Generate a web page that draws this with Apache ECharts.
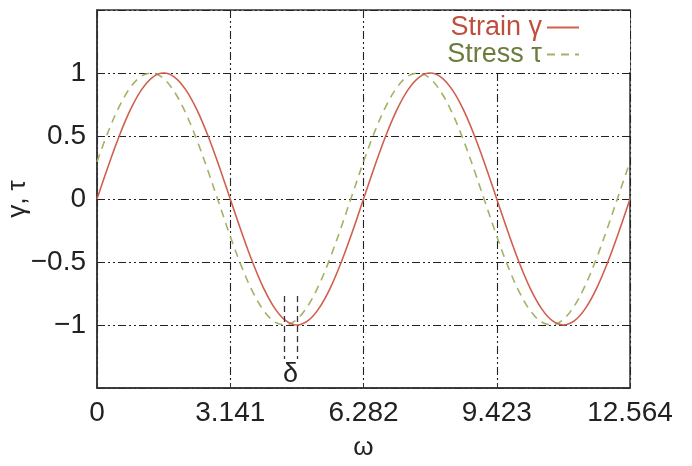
<!DOCTYPE html>
<html>
<head>
<meta charset="utf-8">
<script src="https://cdn.jsdelivr.net/npm/echarts@6/dist/echarts.min.js"></script>
<style>
  html, body { margin: 0; padding: 0; background: #ffffff; }
  #chart { width: 692px; height: 466px; }
</style>
</head>
<body>
<div id="chart"></div>
<script>
// Angular position (rad)
const omega = [
  0, 0.262, 0.524, 0.785, 1.047, 1.309, 1.571, 1.833, 2.094, 2.356, 2.618, 2.880,
  3.141, 3.403, 3.665, 3.927, 4.188, 4.450, 4.712, 4.974, 5.236, 5.498, 5.759, 6.021,
  6.282, 6.544, 6.806, 7.068, 7.329, 7.591, 7.853, 8.115, 8.377, 8.639, 8.900, 9.162,
  9.423, 9.685, 9.947, 10.209, 10.471, 10.732, 10.994, 11.256, 11.518, 11.779, 12.041, 12.303,
  12.564
];

// Strain γ
const strain = [
  0, 0.2588, 0.5, 0.7071, 0.866, 0.9659, 1, 0.9659, 0.866, 0.7071, 0.5, 0.2588,
  0, -0.2588, -0.5, -0.7071, -0.866, -0.9659, -1, -0.9659, -0.866, -0.7071, -0.5, -0.2588,
  0, 0.2588, 0.5, 0.7071, 0.866, 0.9659, 1, 0.9659, 0.866, 0.7071, 0.5, 0.2588,
  0, -0.2588, -0.5, -0.7071, -0.866, -0.9659, -1, -0.9659, -0.866, -0.7071, -0.5, -0.2588,
  0
];

// Stress τ (leads the strain by the phase angle δ)
const stress = [
  0.2955, 0.5327, 0.7335, 0.8845, 0.9751, 0.9993, 0.9553, 0.8463, 0.6797, 0.4666, 0.2217, -0.0382,
  -0.2955, -0.5327, -0.7335, -0.8845, -0.9751, -0.9993, -0.9553, -0.8463, -0.6797, -0.4666, -0.2217, 0.0382,
  0.2955, 0.5327, 0.7335, 0.8845, 0.9751, 0.9993, 0.9553, 0.8463, 0.6797, 0.4666, 0.2217, -0.0382,
  -0.2955, -0.5327, -0.7335, -0.8845, -0.9751, -0.9993, -0.9553, -0.8463, -0.6797, -0.4666, -0.2217, 0.0382,
  0.2955
];

// Axis ticks
const xTicks = [0, 3.141, 6.282, 9.423, 12.564];
const xTickLabels = ['0', '3.141', '6.282', '9.423', '12.564'];
const yTicks = [-1, -0.5, 0, 0.5, 1];
const yTickLabels = ['\u22121', '\u22120.5', '0', '0.5', '1'];

// Phase-lag marker: minima of stress and strain
const deltaMarks = [4.412, 4.712];
const deltaSpan = [-0.77, -1.27];
const deltaLabelAt = [4.562, -1.39];

const names = ['Strain \u03b3', 'Stress \u03c4'];
const red = '#d0604e';
const green = '#a3b266';
const font = '"Liberation Sans", Arial, sans-serif';
const gridDash = [8, 3, 2, 3, 2, 3];

const pair = (xs, ys) => xs.map((x, i) => [x, ys[i]]);

const chart = echarts.init(document.getElementById('chart'), null, { renderer: 'canvas' });

chart.setOption({
  animation: false,
  backgroundColor: '#ffffff',
  grid: {
    left: 97, right: 62, top: 10, bottom: 78,
    containLabel: false,
    outerBoundsMode: 'none',
    show: true, borderColor: '#333333', borderWidth: 1.5, backgroundColor: 'transparent'
  },
  legend: {
    right: 62, top: 11,
    orient: 'vertical',
    align: 'right',
    backgroundColor: '#ffffff',
    padding: [3, 50, 4, 10],
    itemGap: 0,
    itemWidth: 32,
    itemHeight: 10,
    itemStyle: { opacity: 0 },
    textStyle: { fontFamily: font, fontSize: 27, lineHeight: 23 },
    data: [
      { name: names[0], textStyle: { color: '#bf4f3d' } },
      { name: names[1], textStyle: { color: '#6b7c3c' } }
    ]
  },
  xAxis: {
    type: 'value',
    min: 0, max: 12.564, interval: 3.141,
    name: '\u03c9', nameLocation: 'middle', nameGap: 47,
    nameMoveOverlap: false,
    nameTextStyle: { fontFamily: font, fontSize: 26, color: '#222' },
    axisLine: { show: true, onZero: false, lineStyle: { color: '#333', width: 1.5 } },
    axisTick: { show: true, inside: true, length: 5, lineStyle: { color: '#333' } },
    axisLabel: {
      fontFamily: font, fontSize: 28, color: '#222', margin: 11,
      formatter: v => {
        const i = xTicks.findIndex(t => Math.abs(t - v) < 1e-6);
        return i >= 0 ? xTickLabels[i] : '';
      }
    },
    splitLine: { show: true, lineStyle: { color: '#222', width: 1.1, type: gridDash } }
  },
  yAxis: {
    type: 'value',
    min: -1.5, max: 1.5, interval: 0.5,
    name: '\u03b3, \u03c4', nameLocation: 'middle', nameGap: 66, nameRotate: 90,
    nameMoveOverlap: false,
    nameTextStyle: { fontFamily: font, fontSize: 26, color: '#222' },
    axisLine: { show: true, onZero: false, lineStyle: { color: '#333', width: 1.5 } },
    axisTick: { show: false },
    axisLabel: {
      fontFamily: font, fontSize: 28, color: '#222', margin: 11,
      formatter: v => {
        const i = yTicks.findIndex(t => Math.abs(t - v) < 1e-6);
        return i >= 0 ? yTickLabels[i] : '';
      }
    },
    splitLine: { show: true, lineStyle: { color: '#222', width: 1.1, type: gridDash } }
  },
  series: [
    {
      name: names[0],
      type: 'line',
      data: pair(omega, strain),
      smooth: 0.35,
      symbol: 'none',
      lineStyle: { color: red, width: 1.6, type: 'solid' },
      itemStyle: { color: red },
      z: 3,
      markLine: {
        silent: true,
        symbol: 'none',
        label: { show: false },
        lineStyle: { color: '#333', width: 1.3, type: [6, 4] },
        data: deltaMarks.map(x => [
          { coord: [x, deltaSpan[0]] },
          { coord: [x, deltaSpan[1]] }
        ])
      },
      markPoint: {
        silent: true,
        symbol: 'circle',
        symbolSize: 1,
        itemStyle: { color: 'rgba(0,0,0,0)' },
        label: {
          show: true, position: 'inside', formatter: '\u03b4',
          fontFamily: font, fontSize: 27, color: '#222'
        },
        data: [{ coord: deltaLabelAt }]
      }
    },
    {
      name: names[1],
      type: 'line',
      data: pair(omega, stress),
      smooth: 0.35,
      symbol: 'none',
      lineStyle: { color: green, width: 1.6, type: [8, 6] },
      itemStyle: { color: green },
      z: 2
    }
  ]
});
</script>
</body>
</html>
